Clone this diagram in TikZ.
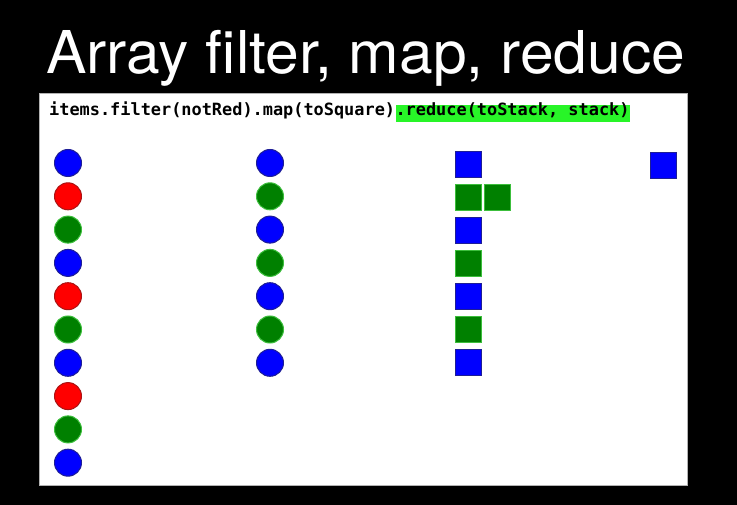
\documentclass[tikz,border=0pt]{standalone}
\usepackage{fontspec}
\newfontfamily\titlefont[FakeStretch=1.027]{TeX Gyre Heros}
\newfontfamily\codefont{DejaVu Sans Mono}
\definecolor{cblue}{RGB}{0,0,255}
\definecolor{cblueedge}{RGB}{30,30,150}
\definecolor{cgreen}{RGB}{0,128,0}
\definecolor{cgreenedge}{RGB}{60,190,60}
\definecolor{cred}{RGB}{255,0,0}
\definecolor{crededge}{RGB}{170,20,20}
\definecolor{hl}{RGB}{40,245,40}
\tikzset{
  dot/.style={circle, minimum size=27pt, inner sep=0pt, line width=1pt},
  bdot/.style={dot, fill=cblue, draw=cblueedge},
  gdot/.style={dot, fill=cgreen, draw=cgreenedge},
  rdot/.style={dot, fill=cred, draw=crededge},
  sq/.style={rectangle, minimum size=26pt, inner sep=0pt, line width=0.8pt},
  bsq/.style={sq, fill=cblue, draw=cblueedge},
  gsq/.style={sq, fill=cgreen, draw=cgreenedge},
  code/.style={font=\codefont\bfseries\fontsize{16.9}{18}\selectfont, inner xsep=0pt, inner ysep=0.5pt, text height=10pt, text depth=5.5pt, anchor=base west},
}
\begin{document}
\begin{tikzpicture}[x=1pt,y=-1pt]
\useasboundingbox (0,0) rectangle (737,505);
\fill[black] (0,0) rectangle (737,505);
\node[anchor=base west, inner sep=0pt, text=white, font=\titlefont\fontsize{59}{62}\selectfont] (title) at (46,74) {Array filter, map, reduce};
\node[draw=gray!60, fill=white, line width=0.6pt, minimum width=648pt, minimum height=392pt, inner sep=0pt, anchor=north west] (panel) at (39,93) {};
\node[code] (c1) at (49,116) {items.filter(notRed).map(toSquare)};
\node[code, fill=hl] (c2) at (c1.base east) {.reduce(toStack, stack)};
% column 1
\foreach \s [count=\i from 0] in {bdot,rdot,gdot,bdot,rdot,gdot,bdot,rdot,gdot,bdot}
  \node[\s] (a\i) at (68,{163+33.3*\i}) {};
% column 2
\foreach \s [count=\i from 0] in {bdot,gdot,bdot,gdot,bdot,gdot,bdot}
  \node[\s] (b\i) at (270,{163+33.3*\i}) {};
% column 3
\foreach \s [count=\i from 0] in {bsq,gsq,bsq,gsq,bsq,gsq,bsq}
  \node[\s] (s\i) at (468,{164+33*\i}) {};
\node[gsq] (s1b) at (497,197) {};
% result
\node[bsq] (r0) at (663,165) {};
\end{tikzpicture}
\end{document}
